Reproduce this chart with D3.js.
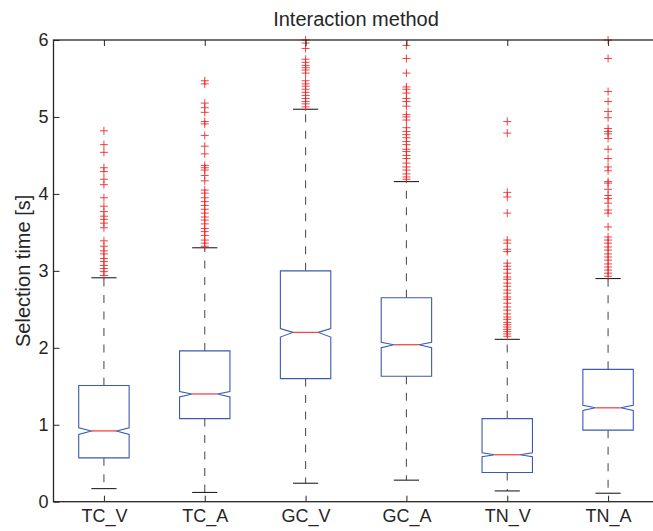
<!DOCTYPE html>
<html>
<head>
<meta charset="utf-8">
<script src="https://cdn.jsdelivr.net/npm/d3@7/dist/d3.min.js"></script>
<style>
  html, body { margin: 0; padding: 0; background: #fff; }
  svg { display: block; }
  text { font-family: "Liberation Sans", Arial, Helvetica, sans-serif; fill: #262626; }
</style>
</head>
<body>
<svg id="chart" width="653" height="531"></svg>
<script>
const categories = ["TC_V", "TC_A", "GC_V", "GC_A", "TN_V", "TN_A"];
const q1Values     = [0.57, 1.08, 1.60, 1.63, 0.38, 0.93];
const medianValues = [0.92, 1.40, 2.20, 2.04, 0.61, 1.22];
const q3Values     = [1.51, 1.96, 3.00, 2.65, 1.08, 1.72];
const notchLow     = [0.875, 1.36, 2.14, 2.00, 0.585, 1.187];
const notchHigh    = [0.961, 1.43, 2.25, 2.07, 0.637, 1.252];
const whiskerLow   = [0.17, 0.12, 0.24, 0.28, 0.14, 0.11];
const whiskerHigh  = [2.91, 3.30, 5.10, 4.16, 2.11, 2.90];
const outliers = [
  [4.82,4.64,4.54,4.34,4.29,4.19,4.12,3.95,3.84,3.77,3.71,3.67,3.62,3.56,3.39,3.32,3.26,3.22,3.16,3.12,3.07,3.03,2.99,2.94],
  [5.47,5.43,5.18,5.12,5.06,4.94,4.91,4.76,4.62,4.52,4.37,4.34,4.31,4.24,4.17,4.05,4.01,3.95,3.90,3.85,3.80,3.75,3.70,3.66,3.61,3.55,3.51,3.46,3.40,3.36,3.32],
  [6.0,5.96,5.89,5.75,5.71,5.67,5.64,5.61,5.57,5.47,5.43,5.40,5.36,5.32,5.28,5.24,5.20,5.17,5.13],
  [5.93,5.76,5.57,5.39,5.36,5.31,5.24,5.20,5.14,5.03,5.00,4.96,4.86,4.81,4.77,4.73,4.68,4.64,4.58,4.55,4.50,4.46,4.40,4.35,4.31,4.26,4.22,4.19],
  [4.94,4.79,4.02,3.96,3.75,3.40,3.36,3.28,3.25,3.10,3.06,3.02,2.97,2.92,2.89,2.84,2.80,2.75,2.71,2.66,2.63,2.58,2.53,2.49,2.44,2.40,2.37,2.33,2.30,2.27,2.24,2.21,2.18,2.15],
  [6.0,5.76,5.33,5.20,5.07,4.99,4.85,4.81,4.78,4.72,4.58,4.46,4.35,4.30,4.16,4.14,4.06,3.98,3.94,3.88,3.79,3.75,3.57,3.44,3.40,3.36,3.31,3.27,3.22,3.18,3.14,3.09,3.05,3.01,2.97,2.93]
];
const yTicks = [0, 1, 2, 3, 4, 5, 6];
const titleText = "Interaction method";
const yLabelText = "Selection time [s]";

const margin = { left: 53.5, top: 40, right: 658.5, bottom: 501.7 };
const svg = d3.select("#chart");

const x = d3.scalePoint().domain(categories).range([margin.left, margin.right]).padding(0.5);
const y = d3.scaleLinear().domain([0, 6]).range([margin.bottom, margin.top]);
const step = x.step();
const hw = step * 0.25;

const boxes = categories.map((c, i) => ({
  c, q1: q1Values[i], med: medianValues[i], q3: q3Values[i],
  nl: notchLow[i], nh: notchHigh[i], wl: whiskerLow[i], wh: whiskerHigh[i], out: outliers[i]
}));

// whiskers
const wg = svg.append("g");
boxes.forEach(b => {
  const cx = x(b.c);
  [[b.q3, b.wh], [b.q1, b.wl]].forEach(([a, e]) => {
    wg.append("line").attr("x1", cx).attr("x2", cx).attr("y1", y(a)).attr("y2", y(e))
      .attr("stroke", "#555").attr("stroke-width", 1.1).attr("stroke-dasharray", "8,8.5");
    wg.append("line").attr("x1", cx - hw / 2).attr("x2", cx + hw / 2).attr("y1", y(e)).attr("y2", y(e))
      .attr("stroke", "#222").attr("stroke-width", 1.1);
  });
});

// boxes
boxes.forEach(b => {
  const cx = x(b.c);
  const pts = [
    [cx - hw, y(b.q3)], [cx + hw, y(b.q3)], [cx + hw, y(b.nh)], [cx + hw / 2, y(b.med)],
    [cx + hw, y(b.nl)], [cx + hw, y(b.q1)], [cx - hw, y(b.q1)], [cx - hw, y(b.nl)],
    [cx - hw / 2, y(b.med)], [cx - hw, y(b.nh)]
  ];
  svg.append("path").attr("d", d3.line()(pts) + "Z")
    .attr("fill", "none").attr("stroke", "#3a5bb0").attr("stroke-width", 1.1);
  svg.append("line").attr("x1", cx - hw / 2).attr("x2", cx + hw / 2)
    .attr("y1", y(b.med)).attr("y2", y(b.med)).attr("stroke", "#f04848").attr("stroke-width", 1.3);
});

// outliers
boxes.forEach(b => {
  const cx = x(b.c);
  b.out.forEach(v => {
    const yy = y(v);
    svg.append("path").attr("d", `M${cx - 4},${yy}H${cx + 4}M${cx},${yy - 4}V${yy + 4}`)
      .attr("stroke", "#ee2222").attr("stroke-width", 1).attr("fill", "none").attr("opacity", 0.85);
  });
});

// axes
const yAxis = d3.axisLeft(y).tickValues(yTicks).tickFormat(d3.format("d"))
  .tickSizeInner(-6).tickSizeOuter(0).tickPadding(5);
const gy = svg.append("g").attr("transform", `translate(${margin.left},0)`).call(yAxis);
gy.select(".domain").remove();
gy.selectAll("text").attr("font-size", 18).style("fill", "#262626");
gy.selectAll("line").attr("stroke", "#262626");

const xAxis = d3.axisBottom(x).tickSizeInner(-6).tickSizeOuter(0).tickPadding(8);
const gx = svg.append("g").attr("transform", `translate(0,${margin.bottom})`).call(xAxis);
gx.select(".domain").remove();
gx.selectAll("text").attr("font-size", 18).style("fill", "#262626");
gx.selectAll("line").attr("stroke", "#262626");

const xTop = d3.axisTop(x).tickSizeInner(-6).tickSizeOuter(0).tickFormat("");
const gt = svg.append("g").attr("transform", `translate(0,${margin.top})`).call(xTop);
gt.select(".domain").remove();
gt.selectAll("line").attr("stroke", "#262626");

// frame
svg.append("rect").attr("x", margin.left).attr("y", margin.top)
  .attr("width", margin.right - margin.left).attr("height", margin.bottom - margin.top)
  .attr("fill", "none").attr("stroke", "#262626").attr("stroke-width", 1.3);

// title & label
svg.append("text").attr("x", (margin.left + margin.right) / 2).attr("y", 26)
  .attr("text-anchor", "middle").attr("font-size", 20).text(titleText);
svg.append("text").attr("transform", `translate(30,${(margin.top + margin.bottom) / 2}) rotate(-90)`)
  .attr("text-anchor", "middle").attr("font-size", 20).text(yLabelText);
</script>
</body>
</html>
